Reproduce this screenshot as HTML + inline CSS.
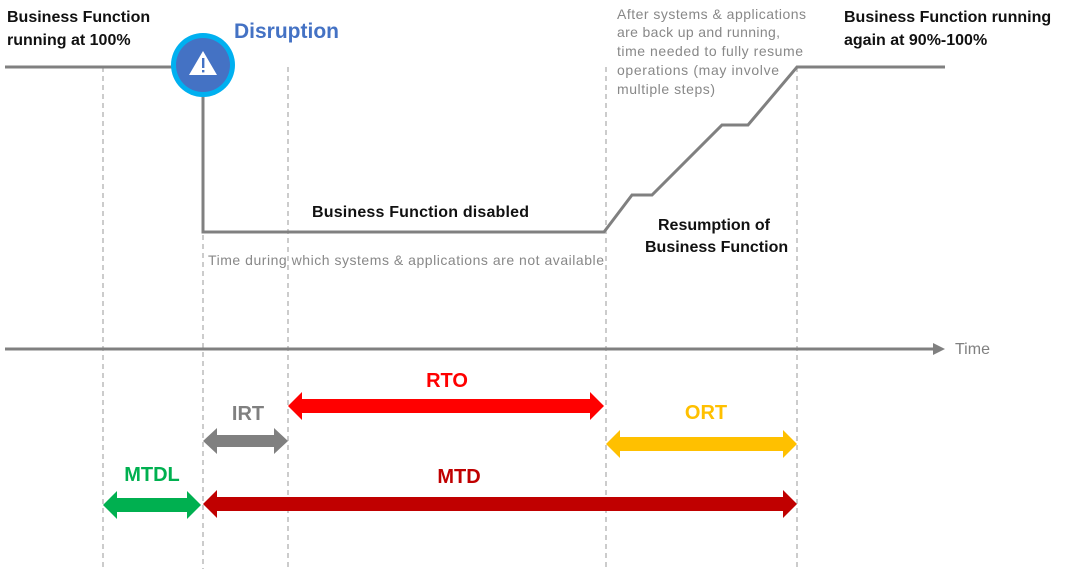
<!DOCTYPE html>
<html><head><meta charset="utf-8"><style>
html,body{margin:0;padding:0;background:#fff;}
svg{display:block;}
text{font-family:"Liberation Sans",sans-serif;}
.b{font-weight:bold;font-size:16px;fill:#111;}
.g{font-size:14px;fill:#888;}
.lab{font-weight:bold;font-size:20px;}
</style></head><body>
<svg width="1089" height="569" viewBox="0 0 1089 569" xmlns="http://www.w3.org/2000/svg">
<g stroke="#aaa" stroke-width="1.2" stroke-dasharray="5,4">
<line x1="103" y1="67" x2="103" y2="569"/>
<line x1="203" y1="100" x2="203" y2="569"/>
<line x1="288" y1="67" x2="288" y2="569"/>
<line x1="606" y1="67" x2="606" y2="569"/>
<line x1="797" y1="67" x2="797" y2="569"/>
</g>
<polyline fill="none" stroke="#808080" stroke-width="3" points="5,67 203,67"/>
<polyline fill="none" stroke="#808080" stroke-width="3" points="203,67 203,232 604,232 632,195 652,195 722,125 748,125 797,67 945,67"/>
<circle cx="203" cy="65" r="32" fill="#00b0f0"/>
<circle cx="203" cy="65" r="27" fill="#4472c4"/>
<polygon points="203,51 217,75 189,75" fill="#fff"/>
<rect x="202" y="58" width="2.4" height="10" fill="#4472c4"/>
<rect x="202" y="70" width="2.4" height="2.4" fill="#4472c4"/>
<line x1="5" y1="349" x2="935" y2="349" stroke="#808080" stroke-width="3"/>
<polygon points="933,343 945,349 933,355" fill="#808080"/>
<text x="7" y="22" class="b">Business Function</text>
<text x="7" y="45" class="b">running at 100%</text>
<text x="234" y="38" style="font-weight:bold;font-size:21px;fill:#4472c4">Disruption</text>
<text x="312" y="217" class="b" textLength="217">Business Function disabled</text>
<text x="208" y="265" class="g" textLength="396">Time during which systems &amp; applications are not available</text>
<text x="658" y="230" class="b">Resumption of</text>
<text x="645" y="252" class="b">Business Function</text>
<text x="617" y="19" class="g" textLength="189">After systems &amp; applications</text>
<text x="617" y="37" class="g" textLength="163">are back up and running,</text>
<text x="617" y="56" class="g" textLength="186">time needed to fully resume</text>
<text x="617" y="75" class="g" textLength="162">operations (may involve</text>
<text x="617" y="94" class="g" textLength="98">multiple steps)</text>
<text x="844" y="22" class="b">Business Function running</text>
<text x="844" y="45" class="b">again at 90%-100%</text>
<text x="955" y="354" style="font-size:16px;fill:#808080">Time</text>
<polygon fill="#ff0000" points="288,406 302,392 302,399 590,399 590,392 604,406 590,420 590,413 302,413 302,420"/>
<text x="447" y="387" class="lab" fill="#ff0000" text-anchor="middle">RTO</text>
<polygon fill="#808080" points="203,441 217,428 217,435 274,435 274,428 288,441 274,454 274,447 217,447 217,454"/>
<text x="248" y="420" class="lab" fill="#808080" text-anchor="middle">IRT</text>
<polygon fill="#ffc000" points="606,444 620,430 620,437 783,437 783,430 797,444 783,458 783,451 620,451 620,458"/>
<text x="706" y="419" class="lab" fill="#ffc000" text-anchor="middle">ORT</text>
<polygon fill="#00b050" points="103,505 117,491 117,498 187,498 187,491 201,505 187,519 187,512 117,512 117,519"/>
<text x="152" y="481" class="lab" fill="#00b050" text-anchor="middle">MTDL</text>
<polygon fill="#c00000" points="203,504 217,490 217,497 783,497 783,490 797,504 783,518 783,511 217,511 217,518"/>
<text x="459" y="483" class="lab" fill="#c00000" text-anchor="middle">MTD</text>
</svg>
</body></html>
